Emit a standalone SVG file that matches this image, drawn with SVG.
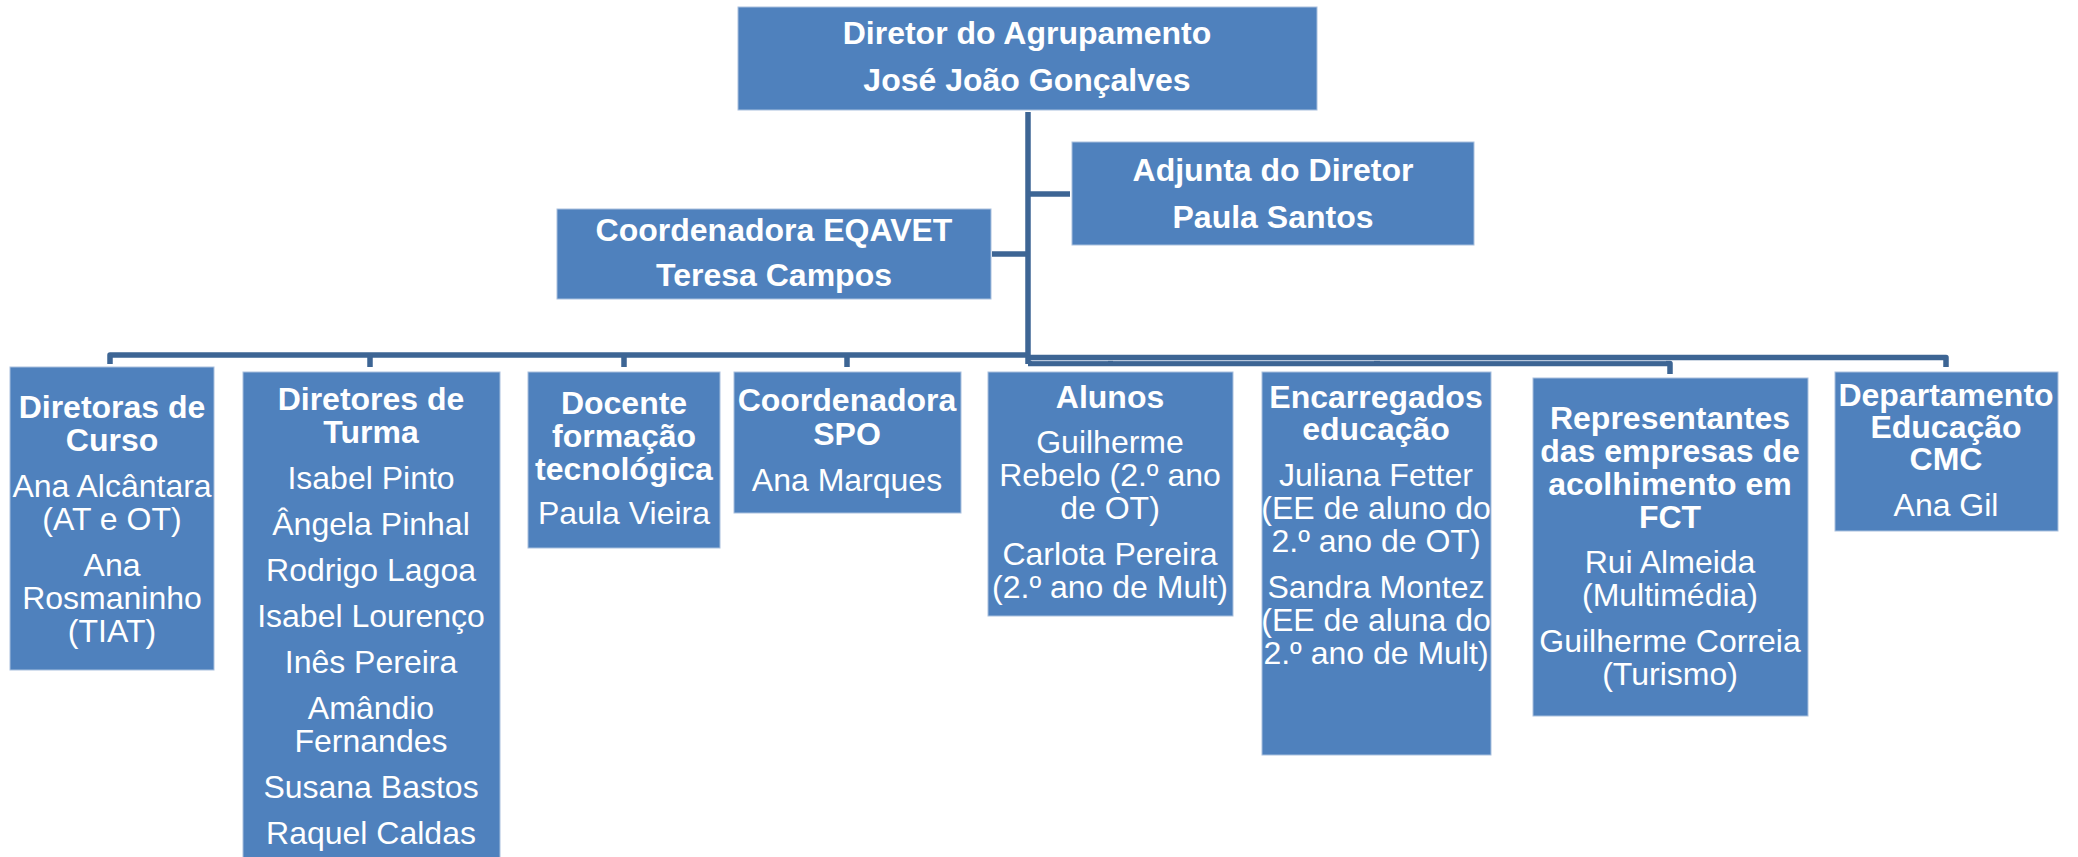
<svg xmlns="http://www.w3.org/2000/svg" width="2078" height="857" viewBox="0 0 2078 857">
<style>
.box{fill:#4F81BD;stroke:#A9C0DE;stroke-width:1}
.ln{fill:none;stroke:#3D6594;stroke-width:5.5;stroke-linejoin:round}
.sep{fill:none;stroke:#B9C9DF;stroke-width:1}
text{font-family:"Liberation Sans",Arial,sans-serif;font-size:32px;fill:#FFFFFF;text-anchor:middle}
.b{font-weight:bold}
</style>
<rect width="2078" height="857" fill="#FFFFFF"/>
<g id="connectors">
<path class="ln" d="M1028,112 V364"/>
<path class="ln" d="M1028,194 H1070"/>
<path class="ln" d="M992,254 H1028"/>
<path class="ln" d="M1028,355 H110 V364"/>
<path class="ln" d="M370,355 V367"/>
<path class="ln" d="M624,355 V367"/>
<path class="ln" d="M847,355 V367"/>
<path class="ln" d="M1028,357.5 H1946 V367"/>
<path class="ln" d="M1028,363.5 H1670 V374"/>
<path class="sep" d="M1032,360.7 H1108 M1113,360.7 H1374 M1380,360.7 H1666"/>
</g>
<g id="n-diretor">
<rect class="box" x="738" y="7" width="579" height="103"/>
<text class="b" x="1027" y="44">Diretor do Agrupamento</text>
<text class="b" x="1027" y="91">José João Gonçalves</text>
</g>
<g id="n-adjunta">
<rect class="box" x="1072" y="142" width="402" height="103"/>
<text class="b" x="1273" y="181">Adjunta do Diretor</text>
<text class="b" x="1273" y="228">Paula Santos</text>
</g>
<g id="n-eqavet">
<rect class="box" x="557" y="209" width="434" height="90"/>
<text class="b" x="774" y="241">Coordenadora EQAVET</text>
<text class="b" x="774" y="286">Teresa Campos</text>
</g>
<g id="n-diretoras-curso">
<rect class="box" x="10" y="367" width="204" height="303"/>
<text class="b" x="112" y="418">Diretoras de</text>
<text class="b" x="112" y="451">Curso</text>
<text x="112" y="497">Ana Alcântara</text>
<text x="112" y="530">(AT e OT)</text>
<text x="112" y="576">Ana</text>
<text x="112" y="609">Rosmaninho</text>
<text x="112" y="642">(TIAT)</text>
</g>
<g id="n-diretores-turma">
<rect class="box" x="243" y="372" width="257" height="490"/>
<text class="b" x="371" y="410">Diretores de</text>
<text class="b" x="371" y="443">Turma</text>
<text x="371" y="489">Isabel Pinto</text>
<text x="371" y="535">Ângela Pinhal</text>
<text x="371" y="581">Rodrigo Lagoa</text>
<text x="371" y="627">Isabel Lourenço</text>
<text x="371" y="673">Inês Pereira</text>
<text x="371" y="719">Amândio</text>
<text x="371" y="752">Fernandes</text>
<text x="371" y="798">Susana Bastos</text>
<text x="371" y="844">Raquel Caldas</text>
</g>
<g id="n-docente">
<rect class="box" x="528" y="372" width="192" height="176"/>
<text class="b" x="624" y="414">Docente</text>
<text class="b" x="624" y="447">formação</text>
<text class="b" x="624" y="480">tecnológica</text>
<text x="624" y="524">Paula Vieira</text>
</g>
<g id="n-spo">
<rect class="box" x="734" y="372" width="227" height="141"/>
<text class="b" x="847" y="411">Coordenadora</text>
<text class="b" x="847" y="445">SPO</text>
<text x="847" y="491">Ana Marques</text>
</g>
<g id="n-alunos">
<rect class="box" x="988" y="372" width="245" height="244"/>
<text class="b" x="1110" y="408">Alunos</text>
<text x="1110" y="453">Guilherme</text>
<text x="1110" y="486">Rebelo (2.º ano</text>
<text x="1110" y="519">de OT)</text>
<text x="1110" y="565">Carlota Pereira</text>
<text x="1110" y="598">(2.º ano de Mult)</text>
</g>
<g id="n-encarregados">
<rect class="box" x="1262" y="372" width="229" height="383"/>
<text class="b" x="1376" y="408">Encarregados</text>
<text class="b" x="1376" y="440">educação</text>
<text x="1376" y="486">Juliana Fetter</text>
<text x="1376" y="519">(EE de aluno do</text>
<text x="1376" y="552">2.º ano de OT)</text>
<text x="1376" y="598">Sandra Montez</text>
<text x="1376" y="631">(EE de aluna do</text>
<text x="1376" y="664">2.º ano de Mult)</text>
</g>
<g id="n-representantes">
<rect class="box" x="1533" y="378" width="275" height="338"/>
<text class="b" x="1670" y="429">Representantes</text>
<text class="b" x="1670" y="462">das empresas de</text>
<text class="b" x="1670" y="495">acolhimento em</text>
<text class="b" x="1670" y="528">FCT</text>
<text x="1670" y="573">Rui Almeida</text>
<text x="1670" y="606">(Multimédia)</text>
<text x="1670" y="652">Guilherme Correia</text>
<text x="1670" y="685">(Turismo)</text>
</g>
<g id="n-departamento">
<rect class="box" x="1835" y="372" width="223" height="159"/>
<text class="b" x="1946" y="406">Departamento</text>
<text class="b" x="1946" y="438">Educação</text>
<text class="b" x="1946" y="470">CMC</text>
<text x="1946" y="516">Ana Gil</text>
</g>
</svg>
